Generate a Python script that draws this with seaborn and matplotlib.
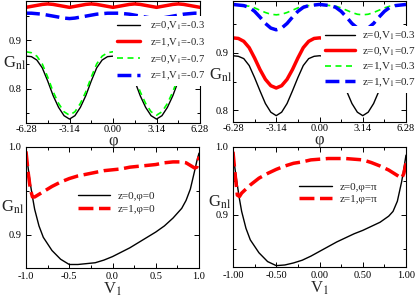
import numpy as np
import matplotlib
matplotlib.use("Agg")
import matplotlib.pyplot as plt
import seaborn as sns

# phi grid (step pi/8) for the top panels
phi = np.linspace(-2 * np.pi, 2 * np.pi, 33)

# top left: z, V1 = -0.3 / -0.7
g_z0_m03 = [0.867, 0.866, 0.859, 0.843, 0.816, 0.786, 0.762, 0.745, 0.738, 0.745, 0.762,
            0.786, 0.816, 0.843, 0.859, 0.866, 0.867, 0.866, 0.859, 0.843, 0.816, 0.786,
            0.762, 0.745, 0.738, 0.745, 0.762, 0.786, 0.816, 0.843, 0.859, 0.866, 0.867]
g_z1_m03 = [0.967, 0.969, 0.971, 0.973, 0.974, 0.973, 0.971, 0.969, 0.967, 0.969, 0.971,
            0.973, 0.974, 0.973, 0.971, 0.969, 0.967, 0.969, 0.971, 0.973, 0.974, 0.973,
            0.971, 0.969, 0.967, 0.969, 0.971, 0.973, 0.974, 0.973, 0.971, 0.969, 0.967]
g_z0_m07 = [0.876, 0.874, 0.867, 0.851, 0.824, 0.794, 0.770, 0.753, 0.746, 0.753, 0.770,
            0.794, 0.824, 0.851, 0.867, 0.874, 0.876, 0.874, 0.867, 0.851, 0.824, 0.794,
            0.770, 0.753, 0.746, 0.753, 0.770, 0.794, 0.824, 0.851, 0.867, 0.874, 0.876]
g_z1_m07 = [0.955, 0.955, 0.954, 0.953, 0.951, 0.949, 0.947, 0.945, 0.944, 0.945, 0.947,
            0.949, 0.951, 0.953, 0.954, 0.955, 0.955, 0.955, 0.954, 0.953, 0.951, 0.949,
            0.947, 0.945, 0.944, 0.945, 0.947, 0.949, 0.951, 0.953, 0.954, 0.955, 0.955]

# top right: V1 = 0.3 / 0.7
g_z0_p03 = [0.895, 0.894, 0.890, 0.878, 0.857, 0.834, 0.812, 0.797, 0.791, 0.797, 0.812,
            0.834, 0.857, 0.878, 0.890, 0.894, 0.895, 0.894, 0.890, 0.878, 0.857, 0.834,
            0.812, 0.797, 0.791, 0.797, 0.812, 0.834, 0.857, 0.878, 0.890, 0.894, 0.895]
g_z0_p07 = [0.926, 0.925, 0.920, 0.909, 0.891, 0.871, 0.854, 0.843, 0.839, 0.843, 0.854,
            0.871, 0.891, 0.909, 0.920, 0.925, 0.926, 0.925, 0.920, 0.909, 0.891, 0.871,
            0.854, 0.843, 0.839, 0.843, 0.854, 0.871, 0.891, 0.909, 0.920, 0.925, 0.926]
g_z1_p03 = [0.983, 0.983, 0.982, 0.981, 0.978, 0.974, 0.970, 0.967, 0.966, 0.967, 0.970,
            0.974, 0.978, 0.981, 0.982, 0.983, 0.983, 0.983, 0.982, 0.981, 0.978, 0.974,
            0.970, 0.967, 0.966, 0.967, 0.970, 0.974, 0.978, 0.981, 0.982, 0.983, 0.983]
g_z1_p07 = [0.984, 0.983, 0.982, 0.979, 0.972, 0.962, 0.951, 0.943, 0.940, 0.943, 0.951,
            0.962, 0.972, 0.979, 0.982, 0.983, 0.984, 0.983, 0.982, 0.979, 0.972, 0.962,
            0.951, 0.943, 0.940, 0.943, 0.951, 0.962, 0.972, 0.979, 0.982, 0.983, 0.984]

# bottom panels: G_nl vs V1
v1 = [-1.0, -0.975, -0.95, -0.925, -0.9, -0.85, -0.8, -0.7, -0.6, -0.5, -0.4, -0.3, -0.2, -0.1,
      0.0, 0.1, 0.2, 0.3, 0.4, 0.5, 0.6, 0.7, 0.8, 0.85, 0.9, 0.95, 0.975, 1.0]
g_z0_phi0 = [0.995, 0.976, 0.958, 0.943, 0.929, 0.910, 0.897, 0.882, 0.872, 0.866, 0.866, 0.867,
             0.868, 0.871, 0.875, 0.880, 0.885, 0.891, 0.897, 0.903, 0.910, 0.919, 0.930, 0.939,
             0.952, 0.973, 0.984, 0.993]
g_z1_phi0 = [0.995, 0.971, 0.952, 0.943, 0.943, 0.946, 0.949, 0.955, 0.960, 0.964, 0.967, 0.969,
             0.971, 0.973, 0.974, 0.975, 0.977, 0.978, 0.979, 0.980, 0.982, 0.983, 0.983, 0.982,
             0.979, 0.976, 0.977, 0.989]
g_z0_phipi = [0.991, 0.966, 0.944, 0.923, 0.905, 0.880, 0.863, 0.844, 0.831, 0.825, 0.826, 0.829,
              0.833, 0.839, 0.846, 0.853, 0.860, 0.866, 0.872, 0.877, 0.883, 0.889, 0.898, 0.905,
              0.920, 0.949, 0.968, 0.988]
g_z1_phipi = [0.993, 0.959, 0.929, 0.927, 0.932, 0.938, 0.944, 0.954, 0.961, 0.967, 0.972, 0.976,
              0.978, 0.981, 0.982, 0.983, 0.983, 0.983, 0.982, 0.981, 0.977, 0.972, 0.966, 0.962,
              0.958, 0.954, 0.961, 0.976]

phi_ticks = [-6.28, -3.14, 0.0, 3.14, 6.28]
phi_labels = ['-6.28', '-3.14', '0.00', '3.14', '6.28']
v_ticks = [-1.0, -0.5, 0.0, 0.5, 1.0]
v_labels_l = ['-1.0', '-0.5', '0.0', '0.5', '1.0']
v_labels_r = ['-1.00', '-0.50', '0.00', '0.50', '1.00']

sns.set_theme(style='ticks')
plt.rcParams['font.family'] = ['Liberation Serif', 'DejaVu Serif']
plt.rcParams['mathtext.fontset'] = 'stix'
plt.rcParams['axes.unicode_minus'] = False

W, H = 417, 302
fig = plt.figure(figsize=(W / 100, H / 100), dpi=100)


def panel(l, t, r, b):
    ax = fig.add_axes([l / W, 1 - b / H, (r - l) / W, (b - t) / H])
    for s in ax.spines.values():
        s.set_linewidth(0.8)
        s.set_color('black')
    ax.tick_params(which='both', direction='in', top=True, right=True,
                   labelsize=7.5, width=0.7, colors='black')
    ax.tick_params(which='major', length=3.5)
    ax.tick_params(which='minor', length=2.5)
    return ax


def curve(ax, x, y, color, lw, dash=None, label=None):
    sns.lineplot(x=x, y=y, ax=ax, color=color, lw=lw, label=label, estimator=None)
    if dash is not None:
        ax.lines[-1].set_linestyle((0, dash))


def style_legend(ax, anchor, hl, tp, ls, fs=8):
    ax.legend(loc='upper left', bbox_to_anchor=anchor, frameon=True, fancybox=False,
              framealpha=1, facecolor='white', edgecolor='none', fontsize=fs,
              handlelength=hl, handletextpad=tp, labelspacing=ls, borderpad=0.35,
              borderaxespad=0)


def ylab(ax, x, y):
    ax.set_ylabel(r'G$_{\rm nl}$', fontsize=12, rotation=0, ha='center', va='center')
    ax.yaxis.set_label_coords(x, y)


green_dash = (3.6, 2.7)
blue_dash = (4.0, 1.7)
red_dash = (4.3, 1.6)

# top left
ax1 = panel(26, 1, 200, 123)
curve(ax1, phi, g_z0_m03, 'black', 1.0, label='z=0,V$_1$=-0.3')
curve(ax1, phi, g_z1_m03, '#ff0000', 2.5, label='z=1,V$_1$=-0.3')
curve(ax1, phi, g_z0_m07, '#00ff00', 1.2, green_dash, label='z=0,V$_1$=-0.7')
curve(ax1, phi, g_z1_m07, '#0000ff', 2.5, blue_dash, label='z=1,V$_1$=-0.7')
ax1.set_xlim(-6.28, 6.28)
ax1.set_ylim(0.73, 0.98)
ax1.set_xticks(phi_ticks, phi_labels)
ax1.set_xticks([-4.71, -1.57, 1.57, 4.71], minor=True)
ax1.set_yticks([0.8, 0.9], ['0.8', '0.9'])
ax1.set_yticks([0.75, 0.85, 0.95], minor=True)
ax1.tick_params(axis='x', pad=1.5)
ax1.set_xlabel('φ', fontsize=12, va='center')
ax1.xaxis.set_label_coords(0.5, -0.15)
ylab(ax1, -0.063, 0.49)
style_legend(ax1, (0.5, 0.877), 2.2, 0.95, 0.4, fs=7.7)

# top right
ax2 = panel(233, 1, 406, 122)
curve(ax2, phi, g_z0_p03, 'black', 1.0, label='z=0,V$_1$=0.3')
curve(ax2, phi, g_z0_p07, '#ff0000', 2.5, label='z=0,V$_1$=0.7')
curve(ax2, phi, g_z1_p03, '#00ff00', 1.2, green_dash, label='z=1,V$_1$=0.3')
curve(ax2, phi, g_z1_p07, '#0000ff', 2.5, blue_dash, label='z=1,V$_1$=0.7')
ax2.set_xlim(-6.28, 6.28)
ax2.set_ylim(0.78, 0.99)
ax2.set_xticks(phi_ticks, phi_labels)
ax2.set_xticks([-4.71, -1.57, 1.57, 4.71], minor=True)
ax2.set_yticks([0.8, 0.9], ['0.8', '0.9'])
ax2.set_yticks([0.85, 0.95], minor=True)
ax2.tick_params(axis='x', pad=1.5)
ax2.set_xlabel('φ', fontsize=12, va='center')
ax2.xaxis.set_label_coords(0.5, -0.15)
ylab(ax2, -0.072, 0.39)
style_legend(ax2, (0.509, 0.793), 2.7, 0.6, 0.28)

# bottom left
ax3 = panel(26, 147, 199, 268)
curve(ax3, v1, g_z0_phi0, 'black', 1.0, label='z=0,φ=0')
curve(ax3, v1, g_z1_phi0, '#ff0000', 2.5, red_dash, label='z=1,φ=0')
ax3.set_xlim(-1, 1)
ax3.set_ylim(0.862, 1.0)
ax3.set_xticks(v_ticks, v_labels_l)
ax3.set_xticks([-0.75, -0.25, 0.25, 0.75], minor=True)
ax3.set_yticks([0.9, 1.0], ['0.9', '1.0'])
ax3.set_yticks([0.95], minor=True)
ax3.tick_params(axis='x', pad=3)
ax3.set_xlabel('V$_1$', fontsize=12, va='center')
ax3.xaxis.set_label_coords(0.5, -0.18)
ylab(ax3, -0.075, 0.505)
style_legend(ax3, (0.277, 0.669), 2.9, 0.7, 0.35)

# bottom right
ax4 = panel(233, 147, 406, 267)
curve(ax4, v1, g_z0_phipi, 'black', 1.0, label='z=0,φ=π')
curve(ax4, v1, g_z1_phipi, '#ff0000', 2.5, red_dash, label='z=1,φ=π')
ax4.set_xlim(-1, 1)
ax4.set_ylim(0.823, 1.0)
ax4.set_xticks(v_ticks, v_labels_r)
ax4.set_xticks([-0.75, -0.25, 0.25, 0.75], minor=True)
ax4.set_yticks([0.9, 1.0], ['0.9', '1.0'])
ax4.set_yticks([0.85, 0.95], minor=True)
ax4.tick_params(axis='x', pad=3)
ax4.set_xlabel('V$_1$', fontsize=12, va='center')
ax4.xaxis.set_label_coords(0.5, -0.18)
ylab(ax4, -0.075, 0.54)
style_legend(ax4, (0.358, 0.742), 3.0, 0.65, 0.2)

fig.savefig('out.png', dpi=100)
